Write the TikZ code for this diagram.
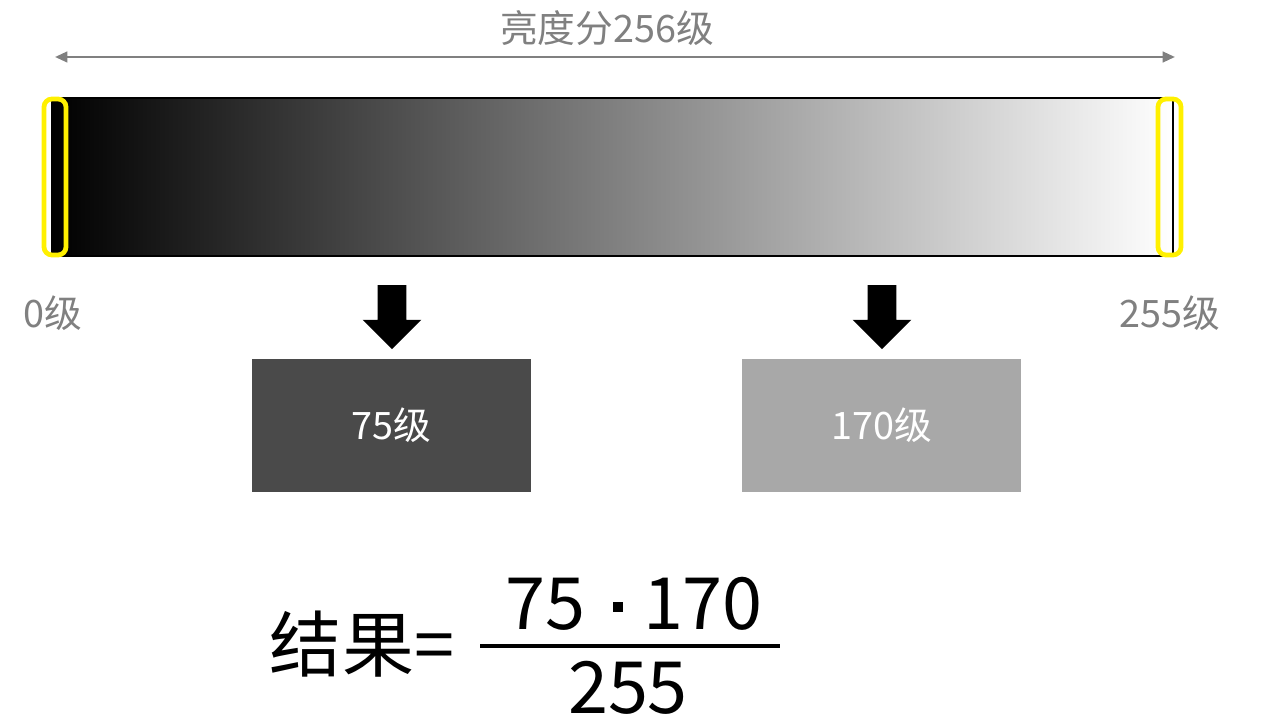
\documentclass[tikz,border=0pt]{standalone}
\usepackage{fontspec}
\setmainfont{Noto Sans CJK SC}
\usetikzlibrary{shapes.arrows, arrows.meta, positioning}
\definecolor{labelcol}{RGB}{128, 128, 128}
\definecolor{markcol}{RGB}{255, 240, 0}
\definecolor{darkcol}{RGB}{74, 74, 74}
\definecolor{lightcol}{RGB}{168, 168, 168}

\begin{document}
\begin{tikzpicture}[
    x = 0.02cm, y = -0.02cm,
    graylabel/.style = {text=labelcol, font=\fontsize{21.5}{25}\selectfont, inner sep=0pt},
    marker/.style = {rectangle, rounded corners=4.5pt, draw=markcol, line width=2.7pt,
                     minimum height=3.12cm, inner sep=0pt},
    levelbox/.style = {rectangle, minimum width=5.58cm, minimum height=2.66cm,
                       text=white, font=\fontsize{21.5}{25}\selectfont},
    downarrow/.style = {single arrow, fill=black, rotate=-90, inner xsep=0pt, inner ysep=0.28cm,
                        minimum height=1.28cm, minimum width=1.16cm,
                        single arrow head extend=0.3cm, single arrow head indent=0pt},
    spanarrow/.style = {labelcol, line width=1.4pt, {Triangle[length=7pt, width=6pt]}-{Triangle[length=7pt, width=6pt]}},
    bigtext/.style = {font=\fontsize{41}{48}\selectfont, inner sep=0pt, anchor=base}
]
    \useasboundingbox (0,0) rectangle (1262,722);

    % Title and range
    \node[graylabel] (title) at (607,28) {亮度分256级};
    \coordinate (span west) at (55,57);
    \coordinate (span east) at (1175,57);
    \draw[spanarrow] (span west) -- (span east);

    % Gradient bar
    \node[rectangle, draw=black, line width=1.1pt, left color=black, right color=white,
          minimum width=22.42cm, minimum height=3.16cm, inner sep=0pt] (bar) at (612.5,177) {};
    \node[marker, minimum width=0.44cm] (mark0) at (55,177) {};
    \node[marker, minimum width=0.46cm] (mark255) at (1169.5,177) {};

    \node[graylabel] (lab0) at (53,313) {0级};
    \node[graylabel] (lab255) at (1170,313) {255级};

    % Two sample levels
    \node[downarrow] (arrow75) at (392,310) {};
    \node[downarrow] (arrow170) at (882,310) {};

    \node[levelbox, fill=darkcol] (box75) at (391.5,425.5) {75级};
    \node[levelbox, fill=lightcol] (box170) at (881.5,425.5) {170级};

    % Formula
    \node[bigtext] (result) at (362,672) {结果=};
    \node[bigtext] (num) at (634,630) {75\hspace{0.55cm}\rule[0.36cm]{0.21cm}{0.21cm}\hspace{0.4cm}170};
    \node[bigtext] (den) at (628,714) {255};
    \coordinate (frac west) at (480,646);
    \coordinate (frac east) at (780,646);
    \draw[line width=2.3pt] (frac west) -- (frac east);

\end{tikzpicture}
\end{document}
